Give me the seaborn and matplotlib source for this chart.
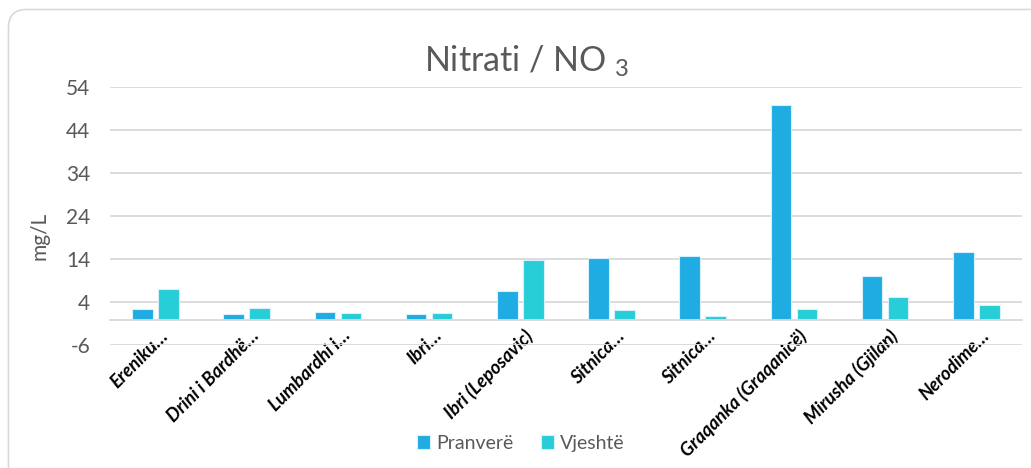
import numpy as np
import pandas as pd
import matplotlib
matplotlib.use("Agg")
import matplotlib.pyplot as plt
import seaborn as sns
from matplotlib.patches import FancyBboxPatch
from matplotlib.transforms import IdentityTransform, ScaledTranslation

categories = ["Ereniku…", "Drini i Bardhë…", "Lumbardhi i…", "Ibri…", "Ibri (Leposavic)",
              "Sitnica…", "Sitnica…", "Graqanka (Graqanicë)", "Mirusha (Gjilan)", "Nerodime…"]
pranvere = [2.4, 1.2, 1.85, 1.3, 6.6, 14.3, 14.8, 49.85, 10.2, 15.7]
vjeshte = [7.0, 2.8, 1.45, 1.5, 13.8, 2.15, 0.9, 2.4, 5.3, 3.3]
series_names = ["Pranverë", "Vjeshtë"]
yticks = list(range(-6, 55, 10))

sns.set_theme(style="white")
plt.rcParams['font.family'] = ['Lato', 'DejaVu Sans']
plt.rcParams['axes.unicode_minus'] = False

n = len(categories)
df = pd.DataFrame({
    "idx": list(range(n)) * 2,
    "value": pranvere + vjeshte,
    "season": [series_names[0]] * n + [series_names[1]] * n,
})

fig = plt.figure(figsize=(10.31, 4.68), dpi=100)
ax = fig.add_axes([0.1064, 0.2618, 0.9913 - 0.1064, 0.8147 - 0.2618])

palette = {"Pranverë": "#1FACE3", "Vjeshtë": "#27CDD7"}
sns.barplot(data=df, x="idx", y="value", hue="season", palette=palette,
            width=0.57, gap=0.21, edgecolor="#d6f1fb", linewidth=0.8,
            saturation=1, ax=ax, legend=True)

ax.set_ylim(-6, 54)
ax.set_yticks(yticks)
ax.set_xlim(-0.5, n - 0.5)
ax.yaxis.grid(True, color="#d9d9d9", linewidth=1.3)
ax.set_axisbelow(True)
for s in ["top", "right", "left"]:
    ax.spines[s].set_visible(False)
ax.spines["bottom"].set_position(("data", 0))
ax.spines["bottom"].set_color("#d9d9d9")
ax.spines["bottom"].set_linewidth(1.3)

ax.tick_params(axis="y", length=0, pad=14, labelsize=15, labelcolor="#595959")
ax.tick_params(axis="x", length=0, pad=6)
ax.set_xticks(range(n))
ax.set_xticklabels(categories, rotation=45, ha="right", va="center",
                   rotation_mode="anchor", fontsize=13.3, fontweight="bold",
                   fontstyle="italic", color="black")
off = ScaledTranslation(10 / 100, -5 / 100, fig.dpi_scale_trans)
for lab in ax.get_xticklabels():
    lab.set_transform(lab.get_transform() + off)

ax.set_xlabel("")
ax.set_ylabel("mg/L", fontsize=15, color="#595959")
ax.yaxis.set_label_coords(-0.066, 0.423)

fig.text(0.511, 0.87, r"Nitrati / NO $_{\mathregular{3}}$", ha="center", va="center",
         fontsize=24.5, color="#595959")

handles, labels = ax.get_legend_handles_labels()
ax.legend(handles, labels, loc="center", bbox_to_anchor=(0.505, 0.053),
          bbox_transform=fig.transFigure, ncol=2, frameon=False,
          handlelength=0.7, handleheight=0.7, handletextpad=0.3,
          columnspacing=1.4, fontsize=14, labelcolor="#595959")

border = FancyBboxPatch((8.5, -40), 1060, 468 - 9.5 + 40,
                        boxstyle="round,pad=0,rounding_size=18",
                        transform=IdentityTransform(), facecolor="none",
                        edgecolor="#d9d9d9", linewidth=1.2)
fig.patches.append(border)

fig.savefig("out.png", dpi=100)
